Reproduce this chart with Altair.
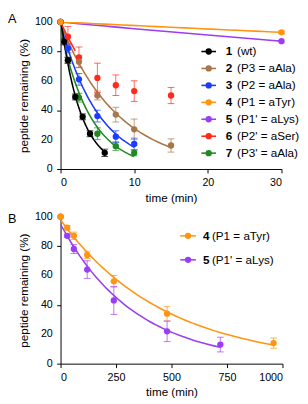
import altair as alt
import pandas as pd

# ---------------- Panel A data ----------------
ids_a = ["1", "2", "3", "4", "5", "6", "7"]
names_a = ["(wt)", "(P3 = aAla)", "(P2 = aAla)", "(P1 = aTyr)",
           "(P1' = aLys)", "(P2' = aSer)", "(P3' = aAla)"]
colors_a = ["#000000", "#A8764A", "#1A3CFF", "#FF9410", "#9B3DF5", "#FF2A1A", "#1E8A22"]

t1 = [0, 0.5, 1, 2, 3, 4, 6]
v1 = [100, 86.5, 74, 49, 35.5, 24, 11]
e1 = [0, 2, 2, 2, 2, 2, 2.5]

t2 = [0, 2.5, 5, 7.5, 10, 15]
v2 = [100, 73, 50, 37, 27, 16]
e2 = [0, 4, 3, 5, 7, 4.5]

t3 = [0, 1, 2.5, 5, 7.5, 10]
v3 = [100, 82, 61, 36, 22, 17]
e3 = [0, 3, 4, 4, 4, 4]

t4 = [0, 30]
v4 = [100, 93]
e4 = [0, 1]

t5 = [0, 30]
v5 = [100, 87]
e5 = [0, 0]

t6 = [1, 2.5, 5, 7.5, 10, 15]
v6 = [90, 76, 62, 57, 53, 50]
e6 = [7, 7, 10, 7, 7, 5.5]

t7 = [0, 1, 2.5, 5, 7.5, 10]
v7 = [100, 74, 48.5, 24, 15.5, 11]
e7 = [0, 2, 3, 4, 3, 2]

# ---------------- Panel B data ----------------
ids_b = ["4", "5"]
names_b = ["(P1 = aTyr)", "(P1' = aLys)"]
colors_b = ["#FF9410", "#9B3DF5"]

tb4 = [0, 30, 60, 120, 240, 480, 960]
vb4 = [100, 92.5, 87, 74, 56, 34, 14]
eb4 = [0, 1.5, 2.5, 2.5, 4, 5, 3.5]

tb5 = [0, 30, 60, 120, 240, 480, 720]
vb5 = [100, 87, 78, 64, 43, 22, 13]
eb5 = [0, 1, 3, 6, 9.5, 7, 5]

# axis ticks
y_major = [0, 20, 40, 60, 80, 100]
y_ticks = [0, 10, 20, 30, 40, 50, 60, 70, 80, 90, 100]

# ---------------- Build tables ----------------
def long(series):
    rows = []
    for sid, ts, vs, es in series:
        for t, v, e in zip(ts, vs, es):
            rows.append({"s": sid, "t": t, "v": v, "lo": v - e, "hi": v + e, "e": e})
    return pd.DataFrame(rows)

# draw order: orange last so its t=0 point sits on top
dfA = long([("6", t6, v6, e6), ("2", t2, v2, e2), ("3", t3, v3, e3), ("7", t7, v7, e7),
            ("1", t1, v1, e1), ("5", t5, v5, e5), ("4", t4, v4, e4)])
dfB = long([("5", tb5, vb5, eb5), ("4", tb4, vb4, eb4)])

legA = pd.DataFrame({"s": ids_a, "name": names_a, "row": list(range(len(ids_a)))})
legB = pd.DataFrame({"s": ids_b, "name": names_b, "row": list(range(len(ids_b)))})
ylab_df = pd.DataFrame({"v": y_major, "lab": [str(v) for v in y_major]})

FONT = "Liberation Sans"
YT = "peptide remaining (%)"
XT = "time (min)"
letter_y = {"A": -8.5, "B": -4}


def panel(df, leg, ids, colors, xdom, xticks, w, h, letter, leg_geom, red_fit):
    col = alt.Color("s:N", scale=alt.Scale(domain=ids, range=colors), legend=None)
    xenc = alt.X("t:Q", title=XT, scale=alt.Scale(domain=xdom, nice=False),
                 axis=alt.Axis(values=xticks, titlePadding=5, format="d",
                               labelOverlap=False, labelPadding=4))
    yaxis = alt.Axis(values=y_ticks, labels=False, titlePadding=26)
    yenc = alt.Y("v:Q", title=YT, scale=alt.Scale(domain=[0, 100], nice=False), axis=yaxis)

    base = alt.Chart(df)
    fit = (base.transform_filter("datum.s !== '6'")
           .transform_regression("t", "v", groupby=["s"], method="exp")
           .mark_line(strokeWidth=1.6, clip=True)
           .encode(x=xenc, y=yenc, color=col))
    layers = [fit]
    if red_fit:
        rfit = (base.transform_filter("datum.s === '6' || (datum.t === 0)")
                .transform_filter("datum.t <= 2.5")
                .transform_calculate(g="'6'")
                .transform_regression("t", "v", groupby=["g"], method="exp", extent=[0, 2])
                .mark_line(strokeWidth=1.6, color=colors[5])
                .encode(x=alt.X("t:Q", title=XT), y=alt.Y("v:Q", title=YT)))
        layers.append(rfit)
    err = (base.transform_filter("datum.e > 0")
           .mark_errorbar(ticks={"size": 7, "thickness": 1}, thickness=1, opacity=0.7)
           .encode(x=alt.X("t:Q", title=XT), y=alt.Y("lo:Q", title=YT),
                   y2="hi:Q", color=col))
    pts = base.mark_circle(size=42, opacity=1).encode(
        x=alt.X("t:Q", title=XT), y=alt.Y("v:Q", title=YT), color=col)
    ylabels = alt.Chart(ylab_df).mark_text(
        align="right", baseline="middle", fontSize=11, font=FONT, color="black"
    ).encode(x=alt.value(-8), y=alt.Y("v:Q", title=YT), text="lab:N")
    layers += [err, pts, ylabels]

    lx1, lx2, lcx, tx1, tx2, ly0, dy = leg_geom
    lg = alt.Chart(leg).transform_calculate(ly=f"{ly0} + datum.row * {dy}")
    ly = alt.Y("ly:Q", scale=None)
    layers += [
        lg.mark_rule(strokeWidth=1.6).encode(x=alt.value(lx1), x2=alt.value(lx2), y=ly, color=col),
        lg.mark_circle(size=42, opacity=1).encode(x=alt.value(lcx), y=ly, color=col),
        lg.mark_text(align="left", baseline="middle", fontSize=12, fontWeight="bold",
                     font=FONT, color="black").encode(x=alt.value(tx1), y=ly, text="s:N"),
        lg.mark_text(align="left", baseline="middle", fontSize=12,
                     font=FONT, color="black").encode(x=alt.value(tx2), y=ly, text="name:N"),
    ]
    lab = alt.Chart(pd.DataFrame({"L": [letter]})).mark_text(
        align="left", baseline="top", fontSize=13, font=FONT, color="black"
    ).encode(x=alt.value(-54), y=alt.value(letter_y[letter]), text="L:N")
    layers.append(lab)
    return alt.layer(*layers).properties(width=w, height=h)


pA = panel(dfA, legA, ids_a, colors_a, [0, 30], [0, 5, 10, 15, 20, 25, 30], 227, 151, "A",
           (144.7, 159.7, 152.2, 169.7, 181.3, 30.3, 17.4), True)
pB = panel(dfB, legB, ids_b, colors_b, [0, 1000], [0, 250, 500, 750, 1000], 228, 151, "B",
           (123, 139, 131, 146.3, 155.5, 19.7, 24.6), False)

chart = alt.vconcat(pA, pB, spacing=8).properties(padding=0).configure(
    font=FONT
).configure_view(stroke=None).configure_axis(
    grid=False, labelFont=FONT, titleFont=FONT, labelFontSize=11, titleFontSize=12,
    titleFontWeight="normal", labelColor="black", titleColor="black",
    domainColor="black", tickColor="black", tickSize=4,
    domainWidth=1, tickWidth=1
)

chart.save("out.html", embed_options={"renderer": "svg", "actions": False})
